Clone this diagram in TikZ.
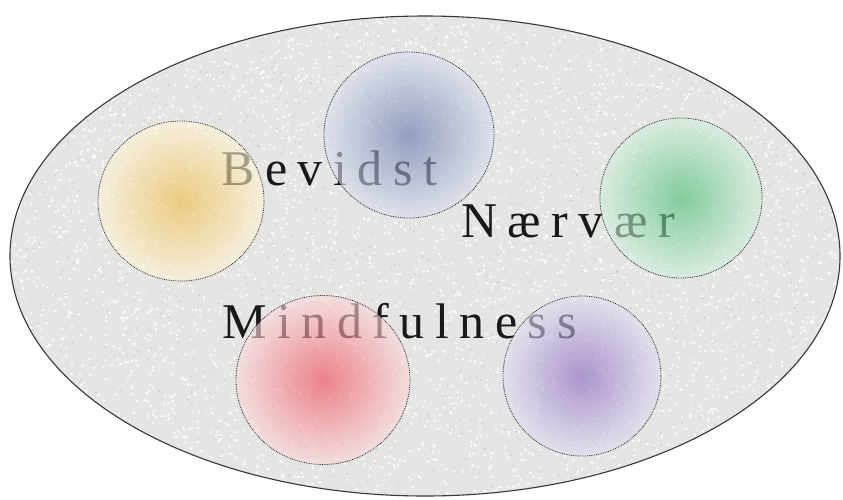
\documentclass[tikz,border=0pt]{standalone}
\usepackage{fontspec}
\setmainfont{Liberation Serif}
\usetikzlibrary{shapes.geometric}
\definecolor{granite}{RGB}{229,229,227}
\definecolor{rimcol}{RGB}{55,55,55}
\tikzset{
  x=1pt,y=-1pt,
  word/.style={anchor=base west, inner sep=0pt, text=black!90,
    font=\fontsize{50}{50}\selectfont\addfontfeature{LetterSpace=21}},
  bubble/.style={ellipse, shading=radial, fill opacity=0.62, inner sep=0pt},
  rim/.style={ellipse, draw=black!85, densely dotted, line width=0.8pt, inner sep=0pt},
}
\begin{document}
\begin{tikzpicture}
\useasboundingbox (0,0) rectangle (843,499);
\fill[white] (0,0) rectangle (843,499);
% big textured ellipse
\node[ellipse, fill=granite, minimum width=830pt, minimum height=480pt, inner sep=0pt] (field) at (425,256) {};
\begin{scope}
\clip (425,256) ellipse [x radius=415, y radius=240];
\pgfmathsetseed{7}
\foreach \k in {1,...,10}{
  \fill[white, opacity=0.75] \foreach \i in {1,...,400}{
    ({10+833*rnd},{15+480*rnd}) rectangle ++(2.2,2.2)};
}
\foreach \k in {1,...,5}{
  \fill[black!35, opacity=0.35] \foreach \i in {1,...,300}{
    ({10+833*rnd},{15+480*rnd}) rectangle ++(1.4,1.4)};
}
\end{scope}
\draw[rimcol, line width=1.1pt] (field.center) ellipse [x radius=415, y radius=240];
% words
\node[word] (bevidst) at (221,185) {Bevidst};
\node[word] (naervaer) at (461,237) {Nærvær};
\node[word] (mind) at (222,338) {Mindfulness};
% coloured bubbles
\node[bubble, minimum width=166pt, minimum height=160pt, inner color={rgb,255:red,240;green,188;blue,70}, outer color={rgb,255:red,255;green,245;blue,218}] (yellow) at (181,201) {};
\node[bubble, minimum width=170pt, minimum height=166pt, inner color={rgb,255:red,100;green,115;blue,170}, outer color={rgb,255:red,218;green,224;blue,240}] (blue) at (409,135) {};
\node[bubble, minimum width=162pt, minimum height=160pt, inner color={rgb,255:red,70;green,190;blue,115}, outer color={rgb,255:red,212;green,240;blue,222}] (green) at (681,198) {};
\node[bubble, minimum width=174pt, minimum height=169pt, inner color={rgb,255:red,240;green,70;blue,85}, outer color={rgb,255:red,252;green,218;blue,220}] (red) at (323,380) {};
\node[bubble, minimum width=158pt, minimum height=160pt, inner color={rgb,255:red,135;green,100;blue,190}, outer color={rgb,255:red,226;green,222;blue,242}] (purple) at (582,376) {};
% dotted rims
\node[rim, minimum width=166pt, minimum height=160pt] (yellowrim) at (yellow.center) {};
\node[rim, minimum width=170pt, minimum height=166pt] (bluerim) at (blue.center) {};
\node[rim, minimum width=162pt, minimum height=160pt] (greenrim) at (green.center) {};
\node[rim, minimum width=174pt, minimum height=169pt] (redrim) at (red.center) {};
\node[rim, minimum width=158pt, minimum height=160pt] (purplerim) at (purple.center) {};
\end{tikzpicture}
\end{document}
